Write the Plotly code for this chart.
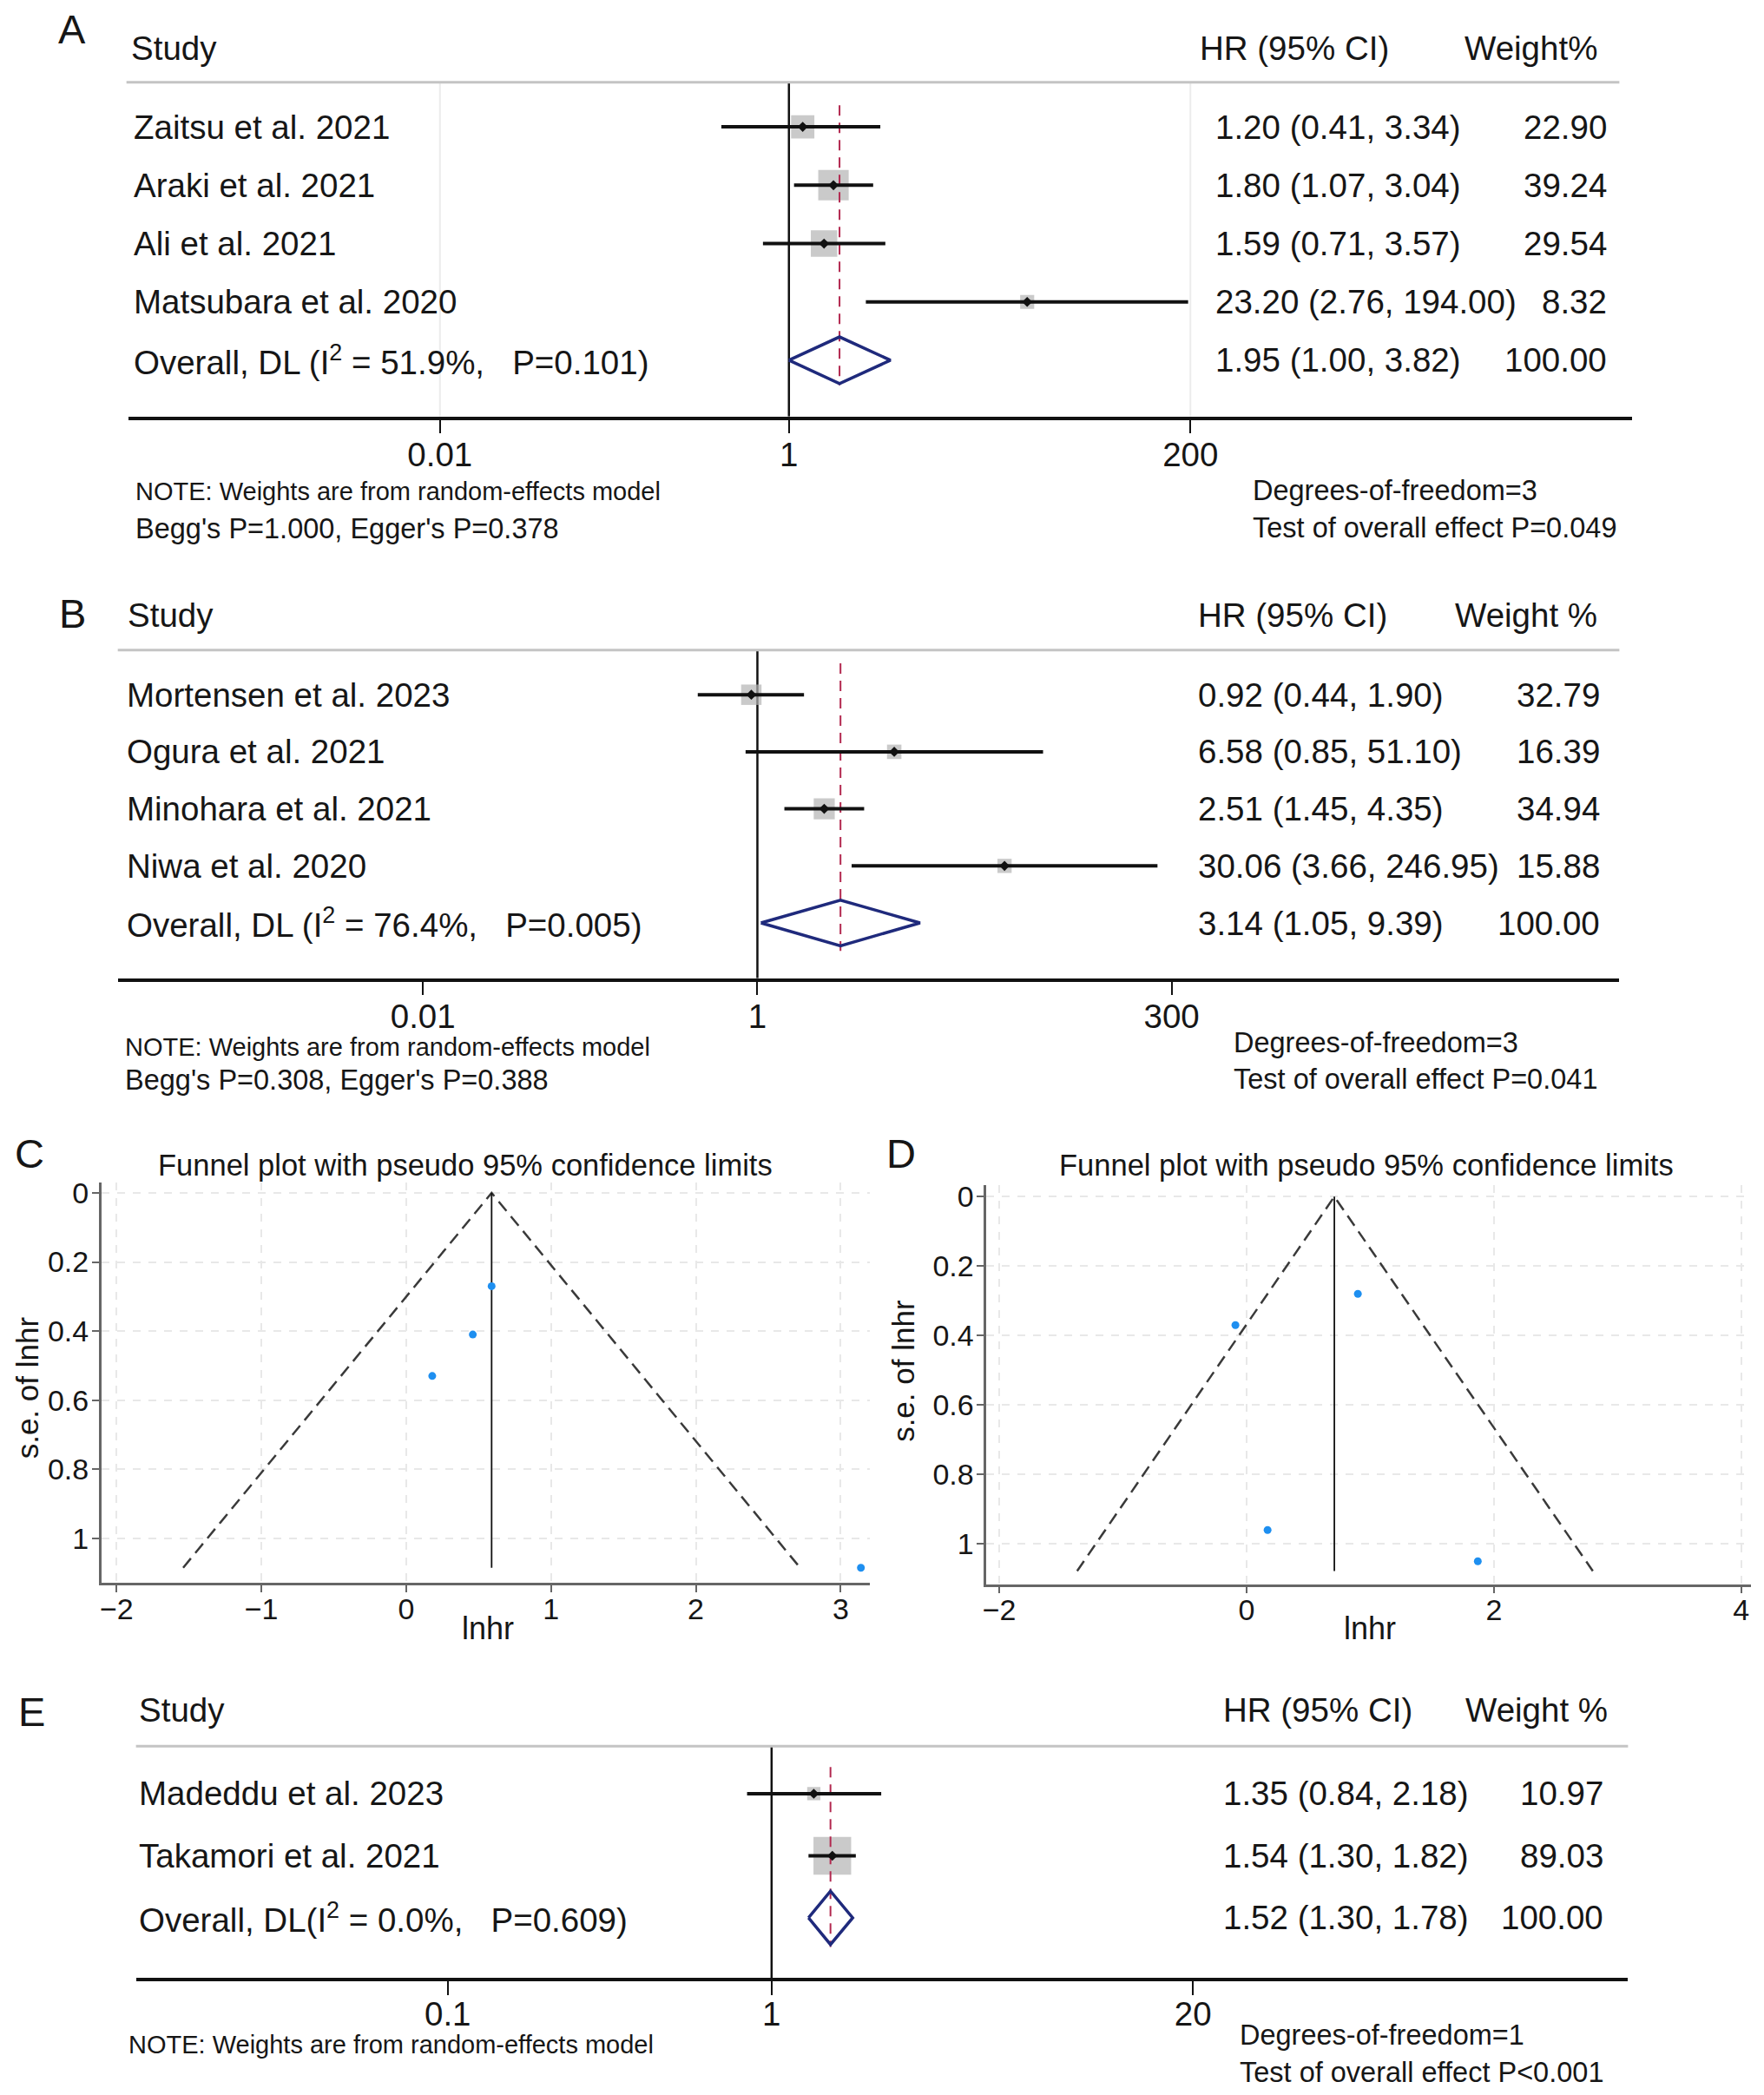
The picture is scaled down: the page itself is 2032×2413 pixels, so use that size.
import plotly.graph_objects as go

# Page is 2032x2413; the browser body keeps its default 8px margin,
# so the figure is 16px smaller and every position is given in page pixels.
PAGE_W, PAGE_H = 2032, 2413
OFF = 8
FW, FH = PAGE_W - 2 * OFF, PAGE_H - 2 * OFF
FONT = "Liberation Sans, Arial, Helvetica, sans-serif"
TXT = "#161616"
NB = "\u00a0"

# ---------------- DATA ----------------
# Panel A
A_studies = ["Zaitsu et al. 2021", "Araki et al. 2021", "Ali et al. 2021", "Matsubara et al. 2020"]
A_hr = [1.20, 1.80, 1.59, 23.20]
A_lo = [0.41, 1.07, 0.71, 2.76]
A_hi = [3.34, 3.04, 3.57, 194.00]
A_weight = [22.90, 39.24, 29.54, 8.32]
A_overall = [1.95, 1.00, 3.82]
A_overall_label = "Overall, DL (I<sup>2</sup> = 51.9%," + NB * 3 + "P=0.101)"
A_ticks = [0.01, 1, 200]
A_ticklabels = ["0.01", "1", "200"]
A_weight_header = "Weight%"
A_notes = ["NOTE: Weights are from random-effects model", "Begg's P=1.000, Egger's P=0.378"]
A_stats = ["Degrees-of-freedom=3", "Test of overall effect P=0.049"]

# Panel B
B_studies = ["Mortensen et al. 2023", "Ogura et al. 2021", "Minohara et al. 2021", "Niwa et al. 2020"]
B_hr = [0.92, 6.58, 2.51, 30.06]
B_lo = [0.44, 0.85, 1.45, 3.66]
B_hi = [1.90, 51.10, 4.35, 246.95]
B_weight = [32.79, 16.39, 34.94, 15.88]
B_overall = [3.14, 1.05, 9.39]
B_overall_label = "Overall, DL (I<sup>2</sup> = 76.4%," + NB * 3 + "P=0.005)"
B_ticks = [0.01, 1, 300]
B_ticklabels = ["0.01", "1", "300"]
B_weight_header = "Weight" + NB + "%"
B_notes = ["NOTE: Weights are from random-effects model", "Begg's P=0.308, Egger's P=0.388"]
B_stats = ["Degrees-of-freedom=3", "Test of overall effect P=0.041"]

# Panel C (funnel)
C_lnhr = [0.18, 0.46, 0.59, 3.14]
C_se = [0.53, 0.41, 0.27, 1.085]
C_center = 0.59
C_limit_x = [-1.54, 0.59, 2.72]
C_limit_y = [1.085, 0.0, 1.085]
C_xticks = [-2, -1, 0, 1, 2, 3]

# Panel D (funnel)
D_lnhr = [-0.09, 0.90, 0.17, 1.87]
D_se = [0.37, 0.28, 0.96, 1.05]
D_center = 0.71
D_limit_x = [-1.37, 0.71, 2.80]
D_limit_y = [1.078, 0.0, 1.078]
D_xticks = [-2, 0, 2, 4]

SE_ticks = [0, 0.2, 0.4, 0.6, 0.8, 1]
FUNNEL_TITLE = "Funnel plot with pseudo 95% confidence limits"

# Panel E
E_studies = ["Madeddu et al. 2023", "Takamori et al. 2021"]
E_hr = [1.35, 1.54]
E_lo = [0.84, 1.30]
E_hi = [2.18, 1.82]
E_weight = [10.97, 89.03]
E_overall = [1.52, 1.30, 1.78]
E_overall_label = "Overall, DL(I<sup>2</sup> = 0.0%," + NB * 3 + "P=0.609)"
E_ticks = [0.1, 1, 20]
E_ticklabels = ["0.1", "1", "20"]
E_weight_header = "Weight" + NB + "%"
E_notes = ["NOTE: Weights are from random-effects model"]
E_stats = ["Degrees-of-freedom=1", "Test of overall effect P<0.001"]

# ---------------- FIGURE ----------------
MAIN = 38.5
fig = go.Figure()
layout = {}


def PX(x):
    return (x - OFF) / FW


def PY(y):
    return 1 - (y - OFF) / FH


def ann(text, xpx, ypx, size, xanchor="left", yanchor="middle", angle=0):
    fig.add_annotation(text=text, x=PX(xpx), y=PY(ypx), xref="paper", yref="paper",
                       xanchor=xanchor, yanchor=yanchor, showarrow=False, textangle=angle,
                       font=dict(size=size, family=FONT, color=TXT))


def forest(s, letter, studies, hr, lo, hi, wt, ov, ov_label, ticks, ticklabels, wt_header,
           notes, stats, g):
    sx = "" if s == 1 else str(s)
    xr, yr = "x" + sx, "y" + sx
    n = len(studies)
    rows = list(range(1, n + 1))
    r_ov = n + 1
    r_h = 1 + (g["yhdr"] - g["r1"]) / g["sp"]
    r_a = 1 + (g["yaxis"] - g["r1"]) / g["sp"]

    layout["xaxis" + sx] = dict(
        type="log", domain=[PX(g["x0"]), PX(g["x1"])],
        range=[(g["x0"] - g["one"]) / g["dec"], (g["x1"] - g["one"]) / g["dec"]],
        anchor=yr, tickvals=ticks, ticktext=ticklabels, ticks="outside", ticklen=16,
        tickwidth=2, tickcolor="#111", showline=True, linecolor="#111", linewidth=3.5,
        ticklabelstandoff=g["tls"],
        showgrid=False, zeroline=False, tickfont=dict(size=MAIN, family=FONT, color=TXT))
    layout["yaxis" + sx] = dict(domain=[PY(g["yaxis"]), PY(g["yhdr"])],
                                range=[r_a, r_h], anchor=xr, visible=False)

    # faint grid lines at outer ticks
    if g.get("grid"):
        gx, gy = [], []
        for t in (ticks[0], ticks[-1]):
            gx += [t, t, None]
            gy += [r_h, r_a, None]
        fig.add_trace(go.Scatter(x=gx, y=gy, xaxis=xr, yaxis=yr, mode="lines",
                                 line=dict(color="#ececec", width=2), hoverinfo="skip"))
    # line of no effect
    fig.add_trace(go.Scatter(x=[1, 1], y=[r_h, r_a], xaxis=xr, yaxis=yr, mode="lines",
                             line=dict(color="#111", width=2.5), hoverinfo="skip"))
    # weight boxes
    fig.add_trace(go.Scatter(x=hr, y=rows, xaxis=xr, yaxis=yr, mode="markers",
                             marker=dict(symbol="square", color="#b4b4b4",
                                         size=[g["k"] * w ** 0.5 for w in wt],
                                         line=dict(width=0))))
    # overall estimate dashed line
    fig.add_trace(go.Scatter(x=[ov[0], ov[0]], y=[1 - g["top"], r_ov + g["bot"]],
                             xaxis=xr, yaxis=yr, mode="lines",
                             line=dict(color="#b2284f", width=2, dash="12px,8px"),
                             hoverinfo="skip"))
    # CI lines
    cx, cy = [], []
    for r, l, h in zip(rows, lo, hi):
        cx += [l, h, None]
        cy += [r, r, None]
    fig.add_trace(go.Scatter(x=cx, y=cy, xaxis=xr, yaxis=yr, mode="lines",
                             line=dict(color="#111", width=4), hoverinfo="skip"))
    # point estimates
    fig.add_trace(go.Scatter(x=hr, y=rows, xaxis=xr, yaxis=yr, mode="markers",
                             marker=dict(symbol="diamond", color="#111", size=9)))
    # overall diamond
    dh = g["dh"]
    fig.add_trace(go.Scatter(x=[ov[1], ov[0], ov[2], ov[0], ov[1]],
                             y=[r_ov, r_ov - dh, r_ov, r_ov + dh, r_ov],
                             xaxis=xr, yaxis=yr, mode="lines",
                             line=dict(color="#1f2a7c", width=3.5), hoverinfo="skip"))

    # header line
    fig.add_shape(type="line", xref="paper", yref="paper", x0=PX(g["hx0"]), x1=PX(g["hx1"]),
                  y0=PY(g["yhdr"]), y1=PY(g["yhdr"]),
                  line=dict(color="#c4c4c4", width=3))

    def rowpx(r):
        return g["r1"] + (r - 1) * g["sp"]

    # texts
    ann(letter, g["lx"], g["ly"], 47, xanchor="center")
    ann("Study", g["study_x"], g["hy"], MAIN)
    ann("HR (95% CI)", g["hhr_x"], g["hy"], MAIN)
    ann(wt_header, g["hwt_r"], g["hy"], MAIN, xanchor="right")
    for r, name, h, l, u, w in zip(rows, studies, hr, lo, hi, wt):
        ann(name, g["name_x"], rowpx(r), MAIN)
        ann(f"{h:.2f} ({l:.2f}, {u:.2f})", g["hr_x"], rowpx(r), MAIN)
        ann(f"{w:.2f}", g["wt_r"], rowpx(r), MAIN, xanchor="right")
    ann(ov_label, g["name_x"], rowpx(r_ov), MAIN)
    ann(f"{ov[0]:.2f} ({ov[1]:.2f}, {ov[2]:.2f})", g["hr_x"], rowpx(r_ov), MAIN)
    ann(f"{sum(wt):.2f}", g["wt_r"], rowpx(r_ov), MAIN, xanchor="right")

    ann(notes[0], g["note_x"], g["note_y"][0], 29)
    if len(notes) > 1:
        ann(notes[1], g["note_x"], g["note_y"][1], 32.5)
    ann(stats[0], g["stat_x"], g["stat_y"][0], 32.5)
    ann(stats[1], g["stat_x"], g["stat_y"][1], 32.5)


GA = dict(x0=143, x1=1880, one=906, dec=201.5, yhdr=88, yaxis=474, r1=139.5, sp=67.4,
          hx0=141, hx1=1865, top=0.37, bot=0.43, k=5.6, grid=True, dh=0.4, tls=-9,
          lx=78, ly=27, study_x=144, hy=48.5, hhr_x=1378, hwt_r=1842,
          name_x=147, hr_x=1396, wt_r=1853,
          note_x=149, note_y=[561, 604], stat_x=1440, stat_y=[560, 603])
GB = dict(x0=131, x1=1865, one=869.6, dec=193.1, yhdr=744, yaxis=1123, r1=795.5, sp=65.9,
          hx0=131, hx1=1865, top=0.55, bot=0.49, k=4.1, grid=False, dh=0.4, tls=-9,
          lx=79, ly=702, study_x=140, hy=704, hhr_x=1376, hwt_r=1841.5,
          name_x=139, hr_x=1376, wt_r=1845,
          note_x=137, note_y=[1202, 1241], stat_x=1417, stat_y=[1197, 1240])
GE = dict(x0=152, x1=1875, one=886, dec=374, yhdr=2010, yaxis=2278, r1=2065, sp=71.7,
          hx0=152, hx1=1875, top=0.43, bot=0.47, k=4.6, grid=False, dh=0.43, tls=-11,
          lx=32, ly=1970, study_x=153, hy=1968, hhr_x=1405, hwt_r=1853.5,
          name_x=153, hr_x=1405, wt_r=1849,
          note_x=141, note_y=[2355], stat_x=1425, stat_y=[2344, 2387])

forest(1, "A", A_studies, A_hr, A_lo, A_hi, A_weight, A_overall, A_overall_label,
       A_ticks, A_ticklabels, A_weight_header, A_notes, A_stats, GA)
forest(2, "B", B_studies, B_hr, B_lo, B_hi, B_weight, B_overall, B_overall_label,
       B_ticks, B_ticklabels, B_weight_header, B_notes, B_stats, GB)
forest(5, "E", E_studies, E_hr, E_lo, E_hi, E_weight, E_overall, E_overall_label,
       E_ticks, E_ticklabels, E_weight_header, E_notes, E_stats, GE)


def funnel(s, letter, lnhr, se, center, lim_x, lim_y, xticks, g):
    sx = str(s)
    xr, yr = "x" + sx, "y" + sx
    axcommon = dict(showline=True, linecolor="#666", linewidth=2.5, ticks="outside", ticklen=8,
                    tickwidth=2, tickcolor="#666", zeroline=False, showgrid=True,
                    gridcolor="#e8e8e8", gridwidth=1.5, griddash="dash",
                    tickfont=dict(size=34, family=FONT, color=TXT))
    layout["xaxis" + sx] = dict(domain=[PX(g["x0"]), PX(g["x1"])], range=g["xrange"],
                                anchor=yr, tickvals=xticks, ticklabelstandoff=-10, **axcommon)
    layout["yaxis" + sx] = dict(domain=[PY(g["y1"]), PY(g["y0"])], range=g["yrange"],
                                anchor=xr, tickvals=SE_ticks, ticklabelstandoff=-3, **axcommon)
    fig.add_trace(go.Scatter(x=lim_x, y=lim_y, xaxis=xr, yaxis=yr, mode="lines",
                             line=dict(color="#3a3a3a", width=2.5, dash="14px,8px"),
                             hoverinfo="skip"))
    fig.add_trace(go.Scatter(x=[center, center], y=[0, lim_y[0]], xaxis=xr, yaxis=yr,
                             mode="lines", line=dict(color="#111", width=1.8),
                             hoverinfo="skip"))
    fig.add_trace(go.Scatter(x=lnhr, y=se, xaxis=xr, yaxis=yr, mode="markers",
                             marker=dict(color="#1e8ff0", size=9), cliponaxis=False))
    ann(letter, g["lx"], 1325, 47, xanchor="center")
    ann(FUNNEL_TITLE, g["tx"], 1339, 34.5, xanchor="center")
    ann("s.e. of lnhr", g["ytx"], g["yty"], 35, xanchor="center", angle=-90)
    ann("lnhr", g["xtx"], 1874, 36, xanchor="center")


GC = dict(x0=112, x1=999, xrange=[-2.105, 3.199], y0=1359, y1=1821.5, yrange=[1.129, -0.03],
          lx=29, tx=532, ytx=26, yty=1596, xtx=558)
GD = dict(x0=1134, x1=2017, xrange=[-2.104, 4.079], y0=1362, y1=1823, yrange=[1.116, -0.033],
          lx=1036, tx=1573, ytx=1038, yty=1576, xtx=1577)

funnel(3, "C", C_lnhr, C_se, C_center, C_limit_x, C_limit_y, C_xticks, GC)
funnel(4, "D", D_lnhr, D_se, D_center, D_limit_x, D_limit_y, D_xticks, GD)

fig.update_layout(width=FW, height=FH, margin=dict(l=0, r=0, t=0, b=0), showlegend=False,
                  paper_bgcolor="white", plot_bgcolor="white",
                  font=dict(family=FONT, color=TXT), **layout)

fig.write_html("out.html", config={"displayModeBar": False})
